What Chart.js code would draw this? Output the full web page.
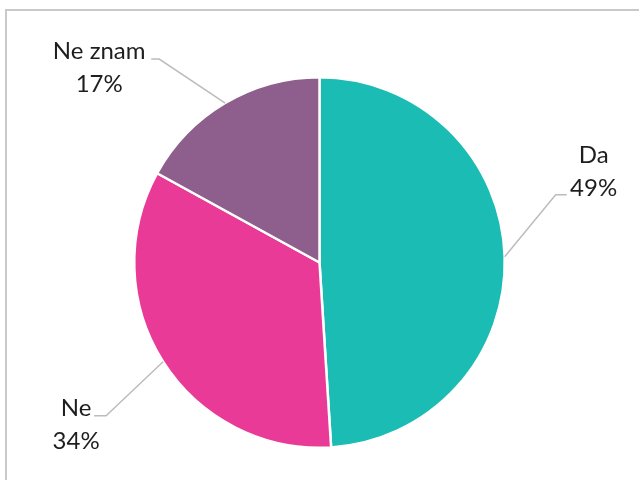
<!DOCTYPE html>
<html>
<head>
<meta charset="utf-8">
<script src="https://cdn.jsdelivr.net/npm/chart.js@4"></script>
<style>
  html, body { margin: 0; padding: 0; background: #fff; overflow: hidden; }
  #wrap { position: relative; width: 639px; height: 480px; }
  #frame { position: absolute; left: 5px; top: 9px; width: 700px; height: 500px;
           border-top: 2px solid #c9c9c9; border-left: 2px solid #c9c9c9; }
  canvas { position: absolute; left: 0; top: 0; }
</style>
</head>
<body>
<div id="wrap">
  <div id="frame"></div>
  <canvas id="pie" width="639" height="480"></canvas>
</div>
<script>
let labels = ['Da', 'Ne', 'Ne znam'];
let values = [49, 34, 17];
let colors = ['#1bbcb3', '#e83a96', '#8e5f8d'];

// leader line elbow / end, and text centre, relative to the slice edge point
let leaderOpts = [
  {elbow: [51, -62], end: [62, -62], text: [89, -101]},
  {elbow: [-57, 54], end: [-69, 54], text: [-87, 47]},
  {elbow: [-66, -44], end: [-74, -44], text: [-126, -52]}
];

const leaders = {
  id: 'leaders',
  afterDatasetsDraw(chart) {
    let ctx = chart.ctx;
    let meta = chart.getDatasetMeta(0);
    let total = values.reduce((a, b) => a + b, 0);
    ctx.save();
    meta.data.forEach((arc, i) => {
      let p = arc.getProps(['x', 'y', 'startAngle', 'endAngle', 'outerRadius'], true);
      let mid = (p.startAngle + p.endAngle) / 2;
      let ex = p.x + Math.cos(mid) * p.outerRadius;
      let ey = p.y + Math.sin(mid) * p.outerRadius;
      let o = leaderOpts[i];
      ctx.strokeStyle = '#bcbcbc';
      ctx.lineWidth = 1.5;
      ctx.beginPath();
      ctx.moveTo(ex, ey);
      ctx.lineTo(ex + o.elbow[0], ey + o.elbow[1]);
      ctx.lineTo(ex + o.end[0], ey + o.end[1]);
      ctx.stroke();
      ctx.fillStyle = '#1e1e1e';
      ctx.font = '24px Lato';
      ctx.textAlign = 'center';
      ctx.textBaseline = 'middle';
      let tx = ex + o.text[0], ty = ey + o.text[1];
      ctx.fillText(labels[i], tx, ty);
      ctx.fillText(Math.round(values[i] / total * 100) + '%', tx, ty + 33);
    });
    ctx.restore();
  }
};

new Chart(document.getElementById('pie'), {
  type: 'pie',
  data: {
    labels: labels,
    datasets: [{
      data: values,
      backgroundColor: colors,
      borderColor: '#ffffff',
      borderWidth: 2.5
    }]
  },
  options: {
    responsive: false,
    animation: false,
    layout: { padding: { top: 76, bottom: 31, left: 100, right: 100 } },
    plugins: {
      legend: { display: false },
      tooltip: { enabled: false }
    }
  },
  plugins: [leaders]
});
</script>
</body>
</html>
